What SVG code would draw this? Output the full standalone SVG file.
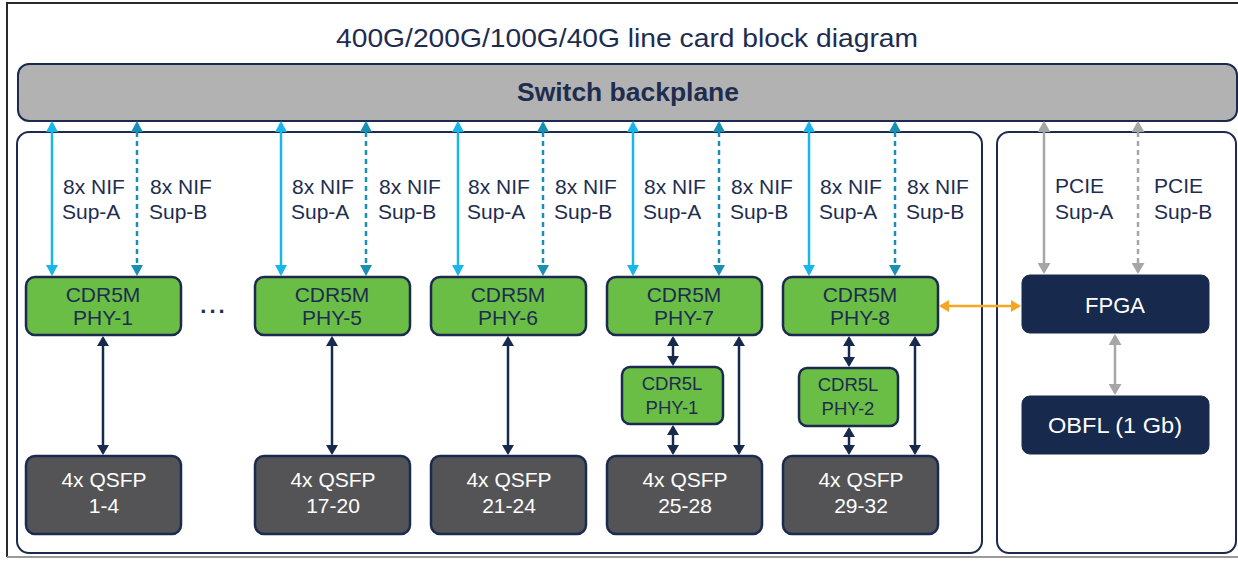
<svg xmlns="http://www.w3.org/2000/svg" width="1238" height="561" viewBox="0 0 1238 561">
<style>
  text { font-family: "Liberation Sans", Arial, sans-serif; }
  .title { font-size: 26px; fill: #1e2d4f; }
  .bp { fill: #b2b2b2; stroke: #1b2a4e; stroke-width: 2; }
  .bpt { font-size: 25px; font-weight: bold; fill: #1e2d4f; }
  .cont { fill: #ffffff; stroke: #1b2a4e; stroke-width: 2; }
  .green { fill: #6abd45; stroke: #1b2a4e; stroke-width: 2.5; }
  .gt { font-size: 21px; fill: #1e2d4f; text-anchor: middle; }
  .lt { font-size: 18.5px; fill: #1e2d4f; text-anchor: middle; }
  .qsfp { fill: #545456; stroke: #1b2a4e; stroke-width: 2.5; }
  .wt { font-size: 21px; fill: #ffffff; text-anchor: middle; }
  .navyb { fill: #172a4e; stroke: #172a4e; stroke-width: 1; }
  .ft { font-size: 22px; fill: #ffffff; text-anchor: middle; }
  .lbl { font-size: 21px; fill: #1e2d4f; }
  .cyan { stroke: #1ab6e9; stroke-width: 2.5; fill: none; marker-start: url(#mc); marker-end: url(#mc); }
  .teal { stroke: #1a8fb3; stroke-width: 2.5; fill: none; stroke-dasharray: 5 4; marker-start: url(#mt); marker-end: url(#mt); }
  .navy { stroke: #172a4e; stroke-width: 2.5; fill: none; marker-start: url(#mn); marker-end: url(#mn); }
  .gray { stroke: #a6a6a6; stroke-width: 2.5; fill: none; marker-start: url(#mg); marker-end: url(#mg); }
  .grayd { stroke: #a6a6a6; stroke-width: 2.5; fill: none; stroke-dasharray: 5 4; marker-start: url(#mg); marker-end: url(#mg); }
  .orange { stroke: #f5a623; stroke-width: 2.5; fill: none; marker-start: url(#mo); marker-end: url(#mo); }
</style>
<defs>
  <marker id="mc" markerUnits="userSpaceOnUse" viewBox="0 0 11 12" refX="9" refY="6" markerWidth="11" markerHeight="12" orient="auto-start-reverse"><path d="M0,0 L11,6 L0,12 z" fill="#1ab6e9"/></marker>
  <marker id="mt" markerUnits="userSpaceOnUse" viewBox="0 0 11 12" refX="9" refY="6" markerWidth="11" markerHeight="12" orient="auto-start-reverse"><path d="M0,0 L11,6 L0,12 z" fill="#1a8fb3"/></marker>
  <marker id="mn" markerUnits="userSpaceOnUse" viewBox="0 0 10 12" refX="8" refY="6" markerWidth="10" markerHeight="12" orient="auto-start-reverse"><path d="M0,0 L10,6 L0,12 z" fill="#172a4e"/></marker>
  <marker id="mg" markerUnits="userSpaceOnUse" viewBox="0 0 11 13" refX="9" refY="6.5" markerWidth="11" markerHeight="13" orient="auto-start-reverse"><path d="M0,0 L11,6.5 L0,13 z" fill="#a6a6a6"/></marker>
  <marker id="mo" markerUnits="userSpaceOnUse" viewBox="0 0 10 12" refX="8" refY="6" markerWidth="10" markerHeight="12" orient="auto-start-reverse"><path d="M0,0 L10,6 L0,12 z" fill="#f5a623"/></marker>
</defs>

<rect x="0" y="0" width="1238" height="561" fill="#ffffff"/>
<g id="frame">
  <path d="M1240,3 L7,3 L7,557" fill="none" stroke="#2a2a2a" stroke-width="2"/>
  <path d="M7,557 L1240,557" fill="none" stroke="#9a9a9a" stroke-width="2"/>
</g>

<text class="title" x="627" y="47" text-anchor="middle" textLength="582" lengthAdjust="spacingAndGlyphs">400G/200G/100G/40G line card block diagram</text>

<g id="backplane">
  <rect class="bp" x="18" y="64" width="1219" height="57" rx="11"/>
  <text class="bpt" x="628" y="101" text-anchor="middle" textLength="222" lengthAdjust="spacingAndGlyphs">Switch backplane</text>
</g>

<g id="left-container"><rect class="cont" x="17" y="132" width="965" height="421" rx="12"/></g>
<g id="right-container"><rect class="cont" x="997" y="132" width="239" height="421" rx="12"/></g>

<g id="connectors">
  <path class="cyan" d="M52,123 V274"/>
  <path class="teal" d="M137,123 V274"/>
  <path class="cyan" d="M281,123 V274"/>
  <path class="teal" d="M366,123 V274"/>
  <path class="cyan" d="M458,123 V274"/>
  <path class="teal" d="M543,123 V274"/>
  <path class="cyan" d="M633,123 V274"/>
  <path class="teal" d="M719,123 V274"/>
  <path class="cyan" d="M809,123 V274"/>
  <path class="teal" d="M895,123 V274"/>
  <path class="gray" d="M1044,123 V272"/>
  <path class="grayd" d="M1138,123 V272"/>
  <path class="gray" d="M1115,336 V393"/>
  <path class="orange" d="M941,306 H1019"/>
  <path class="navy" d="M103,338 V453"/>
  <path class="navy" d="M332,338 V453"/>
  <path class="navy" d="M508,338 V453"/>
  <path class="navy" d="M673,338 V364"/>
  <path class="navy" d="M673,427 V453"/>
  <path class="navy" d="M739,338 V453"/>
  <path class="navy" d="M849,338 V365"/>
  <path class="navy" d="M849,429 V453"/>
  <path class="navy" d="M915,338 V453"/>
</g>

<g id="labels">
  <text class="lbl" x="63" y="194">8x NIF</text><text class="lbl" x="62" y="219">Sup-A</text>
  <text class="lbl" x="150" y="194">8x NIF</text><text class="lbl" x="149" y="219">Sup-B</text>
  <text class="lbl" x="292" y="194">8x NIF</text><text class="lbl" x="291" y="219">Sup-A</text>
  <text class="lbl" x="379" y="194">8x NIF</text><text class="lbl" x="378" y="219">Sup-B</text>
  <text class="lbl" x="468" y="194">8x NIF</text><text class="lbl" x="467" y="219">Sup-A</text>
  <text class="lbl" x="555" y="194">8x NIF</text><text class="lbl" x="554" y="219">Sup-B</text>
  <text class="lbl" x="644" y="194">8x NIF</text><text class="lbl" x="643" y="219">Sup-A</text>
  <text class="lbl" x="731" y="194">8x NIF</text><text class="lbl" x="730" y="219">Sup-B</text>
  <text class="lbl" x="820" y="194">8x NIF</text><text class="lbl" x="819" y="219">Sup-A</text>
  <text class="lbl" x="907" y="194">8x NIF</text><text class="lbl" x="906" y="219">Sup-B</text>
  <text class="lbl" x="1055" y="193">PCIE</text><text class="lbl" x="1055" y="219">Sup-A</text>
  <text class="lbl" x="1154" y="193">PCIE</text><text class="lbl" x="1154" y="219">Sup-B</text>
</g>

<g id="cdr5m-phy1"><rect class="green" x="26" y="277" width="155" height="58" rx="9"/><text class="gt" x="103" y="302">CDR5M</text><text class="gt" x="103" y="325">PHY-1</text></g>
<g id="dots"><text x="214" y="313" text-anchor="middle" font-size="22" font-weight="bold" fill="#1e2d4f" letter-spacing="3">...</text></g>
<g id="cdr5m-phy5"><rect class="green" x="255" y="277" width="155" height="58" rx="9"/><text class="gt" x="332" y="302">CDR5M</text><text class="gt" x="332" y="325">PHY-5</text></g>
<g id="cdr5m-phy6"><rect class="green" x="431" y="277" width="155" height="58" rx="9"/><text class="gt" x="508" y="302">CDR5M</text><text class="gt" x="508" y="325">PHY-6</text></g>
<g id="cdr5m-phy7"><rect class="green" x="607" y="277" width="155" height="58" rx="9"/><text class="gt" x="684" y="302">CDR5M</text><text class="gt" x="684" y="325">PHY-7</text></g>
<g id="cdr5m-phy8"><rect class="green" x="783" y="277" width="155" height="58" rx="9"/><text class="gt" x="860" y="302">CDR5M</text><text class="gt" x="860" y="325">PHY-8</text></g>

<g id="cdr5l-phy1"><rect class="green" x="622" y="367" width="101" height="57" rx="8"/><text class="lt" x="672" y="390">CDR5L</text><text class="lt" x="672" y="414">PHY-1</text></g>
<g id="cdr5l-phy2"><rect class="green" x="799" y="368" width="99" height="58" rx="8"/><text class="lt" x="848" y="391">CDR5L</text><text class="lt" x="848" y="415">PHY-2</text></g>

<g id="qsfp-1-4"><rect class="qsfp" x="26" y="456" width="155" height="78" rx="9"/><text class="wt" x="104" y="487">4x QSFP</text><text class="wt" x="104" y="513">1-4</text></g>
<g id="qsfp-17-20"><rect class="qsfp" x="255" y="456" width="155" height="78" rx="9"/><text class="wt" x="333" y="487">4x QSFP</text><text class="wt" x="333" y="513">17-20</text></g>
<g id="qsfp-21-24"><rect class="qsfp" x="431" y="456" width="155" height="78" rx="9"/><text class="wt" x="509" y="487">4x QSFP</text><text class="wt" x="509" y="513">21-24</text></g>
<g id="qsfp-25-28"><rect class="qsfp" x="607" y="456" width="155" height="78" rx="9"/><text class="wt" x="685" y="487">4x QSFP</text><text class="wt" x="685" y="513">25-28</text></g>
<g id="qsfp-29-32"><rect class="qsfp" x="783" y="456" width="155" height="78" rx="9"/><text class="wt" x="861" y="487">4x QSFP</text><text class="wt" x="861" y="513">29-32</text></g>

<g id="fpga"><rect class="navyb" x="1022" y="275" width="187" height="58" rx="8"/><text class="ft" x="1115" y="313">FPGA</text></g>
<g id="obfl"><rect class="navyb" x="1022" y="396" width="187" height="58" rx="8"/><text class="ft" x="1115" y="433" textLength="134" lengthAdjust="spacingAndGlyphs">OBFL (1 Gb)</text></g>
</svg>
